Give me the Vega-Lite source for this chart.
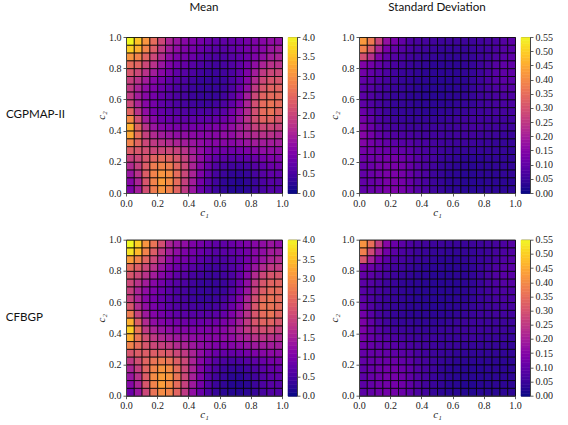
{"$schema":"https://vega.github.io/schema/vega-lite/v6.json","padding":{"left":5,"top":1,"right":0,"bottom":0},"background":"white","bounds":"flush","columns":6,"align":"each","spacing":{"row":46.7,"column":6},"resolve":{"scale":{"color":"independent","stroke":"independent"}},
"config":{"view":{"stroke":null},"font":"Liberation Serif","axis":{"grid":false,"labelFlush":false,"labelOverlap":false,"labelFont":"Liberation Serif","labelFontSize":10,"labelColor":"#222","tickColor":"#333","tickSize":3,"tickWidth":0.8,"domainColor":"#444","labelPadding":2,"titleFont":"Liberation Serif","titleFontSize":11,"titleFontWeight":"normal","titleColor":"#222"},"title":{"font":"Lato","fontSize":11.6,"fontWeight":"normal","color":"#111"}},
"datasets":{"g":[
{"x":0,"y":0.95,"a":4,"b":0.42,"c":4,"d":0.41},{"x":0.05,"y":0.95,"a":3.5,"b":0.37,"c":3.6,"d":0.35},{"x":0.1,"y":0.95,"a":3,"b":0.27,"c":3,"d":0.25},{"x":0.15,"y":0.95,"a":2.5,"b":0.17,"c":2.6,"d":0.15},{"x":0.2,"y":0.95,"a":2,"b":0.13,"c":2.1,"d":0.11},{"x":0.25,"y":0.95,"a":1.5,"b":0.1,"c":1.5,"d":0.09},{"x":0.3,"y":0.95,"a":1.3,"b":0.07,"c":1.3,"d":0.07},{"x":0.35,"y":0.95,"a":1.1,"b":0.065,"c":1.2,"d":0.06},{"x":0.4,"y":0.95,"a":1,"b":0.06,"c":1,"d":0.055},{"x":0.45,"y":0.95,"a":0.9,"b":0.055,"c":0.9,"d":0.05},{"x":0.5,"y":0.95,"a":0.8,"b":0.05,"c":0.8,"d":0.05},{"x":0.55,"y":0.95,"a":0.7,"b":0.05,"c":0.7,"d":0.045},{"x":0.6,"y":0.95,"a":0.7,"b":0.05,"c":0.7,"d":0.045},{"x":0.65,"y":0.95,"a":0.75,"b":0.05,"c":0.8,"d":0.045},{"x":0.7,"y":0.95,"a":0.8,"b":0.05,"c":0.9,"d":0.05},{"x":0.75,"y":0.95,"a":0.9,"b":0.055,"c":1,"d":0.05},{"x":0.8,"y":0.95,"a":1,"b":0.06,"c":1.1,"d":0.055},{"x":0.85,"y":0.95,"a":1.1,"b":0.065,"c":1.2,"d":0.06},{"x":0.9,"y":0.95,"a":1.2,"b":0.08,"c":1.3,"d":0.07},{"x":0.95,"y":0.95,"a":1.2,"b":0.09,"c":1.2,"d":0.08},
{"x":0,"y":0.9,"a":3.6,"b":0.38,"c":3.8,"d":0.38},{"x":0.05,"y":0.9,"a":3.3,"b":0.31,"c":3.4,"d":0.28},{"x":0.1,"y":0.9,"a":2.8,"b":0.21,"c":2.8,"d":0.19},{"x":0.15,"y":0.9,"a":2.3,"b":0.13,"c":2.3,"d":0.12},{"x":0.2,"y":0.9,"a":1.8,"b":0.1,"c":1.8,"d":0.09},{"x":0.25,"y":0.9,"a":1.4,"b":0.08,"c":1.4,"d":0.07},{"x":0.3,"y":0.9,"a":1.2,"b":0.065,"c":1.2,"d":0.06},{"x":0.35,"y":0.9,"a":1,"b":0.055,"c":1,"d":0.05},{"x":0.4,"y":0.9,"a":0.9,"b":0.05,"c":0.9,"d":0.045},{"x":0.45,"y":0.9,"a":0.8,"b":0.045,"c":0.8,"d":0.04},{"x":0.5,"y":0.9,"a":0.7,"b":0.04,"c":0.7,"d":0.04},{"x":0.55,"y":0.9,"a":0.6,"b":0.04,"c":0.6,"d":0.035},{"x":0.6,"y":0.9,"a":0.6,"b":0.04,"c":0.65,"d":0.035},{"x":0.65,"y":0.9,"a":0.7,"b":0.04,"c":0.7,"d":0.04},{"x":0.7,"y":0.9,"a":0.8,"b":0.045,"c":0.8,"d":0.04},{"x":0.75,"y":0.9,"a":0.9,"b":0.05,"c":0.9,"d":0.045},{"x":0.8,"y":0.9,"a":1,"b":0.055,"c":1.1,"d":0.05},{"x":0.85,"y":0.9,"a":1.1,"b":0.065,"c":1.2,"d":0.06},{"x":0.9,"y":0.9,"a":1.3,"b":0.08,"c":1.4,"d":0.07},{"x":0.95,"y":0.9,"a":1.4,"b":0.085,"c":1.4,"d":0.075},
{"x":0,"y":0.85,"a":3,"b":0.29,"c":3.1,"d":0.3},{"x":0.05,"y":0.85,"a":2.8,"b":0.23,"c":2.8,"d":0.2},{"x":0.1,"y":0.85,"a":2.4,"b":0.14,"c":2.4,"d":0.13},{"x":0.15,"y":0.85,"a":2,"b":0.1,"c":2,"d":0.09},{"x":0.2,"y":0.85,"a":1.6,"b":0.08,"c":1.6,"d":0.07},{"x":0.25,"y":0.85,"a":1.2,"b":0.065,"c":1.2,"d":0.06},{"x":0.3,"y":0.85,"a":1,"b":0.055,"c":1,"d":0.05},{"x":0.35,"y":0.85,"a":0.9,"b":0.05,"c":0.9,"d":0.045},{"x":0.4,"y":0.85,"a":0.8,"b":0.04,"c":0.8,"d":0.04},{"x":0.45,"y":0.85,"a":0.65,"b":0.04,"c":0.65,"d":0.035},{"x":0.5,"y":0.85,"a":0.55,"b":0.035,"c":0.55,"d":0.03},{"x":0.55,"y":0.85,"a":0.5,"b":0.035,"c":0.5,"d":0.03},{"x":0.6,"y":0.85,"a":0.5,"b":0.035,"c":0.5,"d":0.03},{"x":0.65,"y":0.85,"a":0.6,"b":0.04,"c":0.6,"d":0.035},{"x":0.7,"y":0.85,"a":0.7,"b":0.04,"c":0.7,"d":0.04},{"x":0.75,"y":0.85,"a":0.85,"b":0.05,"c":0.9,"d":0.045},{"x":0.8,"y":0.85,"a":1,"b":0.055,"c":1.1,"d":0.05},{"x":0.85,"y":0.85,"a":1.2,"b":0.07,"c":1.3,"d":0.06},{"x":0.9,"y":0.85,"a":1.4,"b":0.085,"c":1.5,"d":0.075},{"x":0.95,"y":0.85,"a":1.5,"b":0.09,"c":1.6,"d":0.08},
{"x":0,"y":0.8,"a":2.5,"b":0.14,"c":2.5,"d":0.12},{"x":0.05,"y":0.8,"a":2.4,"b":0.12,"c":2.3,"d":0.11},{"x":0.1,"y":0.8,"a":2,"b":0.1,"c":2,"d":0.09},{"x":0.15,"y":0.8,"a":1.7,"b":0.08,"c":1.7,"d":0.07},{"x":0.2,"y":0.8,"a":1.3,"b":0.065,"c":1.3,"d":0.055},{"x":0.25,"y":0.8,"a":1,"b":0.055,"c":1,"d":0.05},{"x":0.3,"y":0.8,"a":0.85,"b":0.045,"c":0.85,"d":0.04},{"x":0.35,"y":0.8,"a":0.75,"b":0.04,"c":0.75,"d":0.035},{"x":0.4,"y":0.8,"a":0.6,"b":0.035,"c":0.6,"d":0.03},{"x":0.45,"y":0.8,"a":0.5,"b":0.03,"c":0.5,"d":0.03},{"x":0.5,"y":0.8,"a":0.45,"b":0.03,"c":0.4,"d":0.03},{"x":0.55,"y":0.8,"a":0.4,"b":0.03,"c":0.4,"d":0.025},{"x":0.6,"y":0.8,"a":0.45,"b":0.03,"c":0.45,"d":0.03},{"x":0.65,"y":0.8,"a":0.55,"b":0.035,"c":0.55,"d":0.03},{"x":0.7,"y":0.8,"a":0.7,"b":0.04,"c":0.7,"d":0.035},{"x":0.75,"y":0.8,"a":0.9,"b":0.05,"c":1,"d":0.045},{"x":0.8,"y":0.8,"a":1.2,"b":0.06,"c":1.3,"d":0.055},{"x":0.85,"y":0.8,"a":1.5,"b":0.08,"c":1.6,"d":0.07},{"x":0.9,"y":0.8,"a":1.7,"b":0.095,"c":1.8,"d":0.08},{"x":0.95,"y":0.8,"a":1.7,"b":0.095,"c":1.8,"d":0.085},
{"x":0,"y":0.75,"a":2.2,"b":0.12,"c":2.2,"d":0.1},{"x":0.05,"y":0.75,"a":2,"b":0.1,"c":2,"d":0.09},{"x":0.1,"y":0.75,"a":1.7,"b":0.085,"c":1.7,"d":0.075},{"x":0.15,"y":0.75,"a":1.4,"b":0.07,"c":1.4,"d":0.06},{"x":0.2,"y":0.75,"a":1.1,"b":0.055,"c":1.1,"d":0.05},{"x":0.25,"y":0.75,"a":0.9,"b":0.045,"c":0.9,"d":0.04},{"x":0.3,"y":0.75,"a":0.7,"b":0.04,"c":0.7,"d":0.035},{"x":0.35,"y":0.75,"a":0.6,"b":0.035,"c":0.6,"d":0.03},{"x":0.4,"y":0.75,"a":0.5,"b":0.03,"c":0.45,"d":0.03},{"x":0.45,"y":0.75,"a":0.4,"b":0.03,"c":0.4,"d":0.025},{"x":0.5,"y":0.75,"a":0.35,"b":0.03,"c":0.35,"d":0.025},{"x":0.55,"y":0.75,"a":0.35,"b":0.03,"c":0.35,"d":0.025},{"x":0.6,"y":0.75,"a":0.4,"b":0.03,"c":0.4,"d":0.03},{"x":0.65,"y":0.75,"a":0.5,"b":0.035,"c":0.5,"d":0.03},{"x":0.7,"y":0.75,"a":0.7,"b":0.04,"c":0.75,"d":0.035},{"x":0.75,"y":0.75,"a":1,"b":0.05,"c":1.1,"d":0.045},{"x":0.8,"y":0.75,"a":1.4,"b":0.065,"c":1.6,"d":0.06},{"x":0.85,"y":0.75,"a":1.8,"b":0.085,"c":2,"d":0.075},{"x":0.9,"y":0.75,"a":2,"b":0.095,"c":2.2,"d":0.085},{"x":0.95,"y":0.75,"a":2,"b":0.095,"c":2.2,"d":0.085},
{"x":0,"y":0.7,"a":1.9,"b":0.1,"c":2,"d":0.09},{"x":0.05,"y":0.7,"a":1.7,"b":0.09,"c":1.7,"d":0.08},{"x":0.1,"y":0.7,"a":1.4,"b":0.075,"c":1.4,"d":0.065},{"x":0.15,"y":0.7,"a":1.1,"b":0.06,"c":1.1,"d":0.05},{"x":0.2,"y":0.7,"a":0.9,"b":0.05,"c":0.9,"d":0.045},{"x":0.25,"y":0.7,"a":0.7,"b":0.04,"c":0.7,"d":0.035},{"x":0.3,"y":0.7,"a":0.6,"b":0.035,"c":0.6,"d":0.03},{"x":0.35,"y":0.7,"a":0.5,"b":0.03,"c":0.5,"d":0.03},{"x":0.4,"y":0.7,"a":0.4,"b":0.03,"c":0.4,"d":0.025},{"x":0.45,"y":0.7,"a":0.3,"b":0.025,"c":0.3,"d":0.025},{"x":0.5,"y":0.7,"a":0.3,"b":0.025,"c":0.3,"d":0.025},{"x":0.55,"y":0.7,"a":0.3,"b":0.025,"c":0.3,"d":0.025},{"x":0.6,"y":0.7,"a":0.35,"b":0.03,"c":0.35,"d":0.025},{"x":0.65,"y":0.7,"a":0.5,"b":0.03,"c":0.5,"d":0.03},{"x":0.7,"y":0.7,"a":0.7,"b":0.04,"c":0.8,"d":0.035},{"x":0.75,"y":0.7,"a":1.1,"b":0.05,"c":1.2,"d":0.045},{"x":0.8,"y":0.7,"a":1.6,"b":0.065,"c":1.8,"d":0.06},{"x":0.85,"y":0.7,"a":2,"b":0.08,"c":2.2,"d":0.07},{"x":0.9,"y":0.7,"a":2.2,"b":0.09,"c":2.4,"d":0.08},{"x":0.95,"y":0.7,"a":2.2,"b":0.09,"c":2.4,"d":0.08},
{"x":0,"y":0.65,"a":1.8,"b":0.09,"c":1.9,"d":0.085},{"x":0.05,"y":0.65,"a":1.5,"b":0.08,"c":1.5,"d":0.07},{"x":0.1,"y":0.65,"a":1.2,"b":0.065,"c":1.2,"d":0.06},{"x":0.15,"y":0.65,"a":1,"b":0.055,"c":1,"d":0.05},{"x":0.2,"y":0.65,"a":0.8,"b":0.045,"c":0.8,"d":0.04},{"x":0.25,"y":0.65,"a":0.65,"b":0.04,"c":0.65,"d":0.035},{"x":0.3,"y":0.65,"a":0.5,"b":0.035,"c":0.5,"d":0.03},{"x":0.35,"y":0.65,"a":0.45,"b":0.03,"c":0.45,"d":0.025},{"x":0.4,"y":0.65,"a":0.35,"b":0.025,"c":0.35,"d":0.025},{"x":0.45,"y":0.65,"a":0.3,"b":0.025,"c":0.3,"d":0.025},{"x":0.5,"y":0.65,"a":0.3,"b":0.025,"c":0.3,"d":0.025},{"x":0.55,"y":0.65,"a":0.3,"b":0.025,"c":0.3,"d":0.025},{"x":0.6,"y":0.65,"a":0.35,"b":0.03,"c":0.35,"d":0.025},{"x":0.65,"y":0.65,"a":0.5,"b":0.03,"c":0.55,"d":0.03},{"x":0.7,"y":0.65,"a":0.8,"b":0.04,"c":0.85,"d":0.035},{"x":0.75,"y":0.65,"a":1.2,"b":0.05,"c":1.3,"d":0.045},{"x":0.8,"y":0.65,"a":1.8,"b":0.06,"c":1.9,"d":0.055},{"x":0.85,"y":0.65,"a":2.2,"b":0.07,"c":2.3,"d":0.065},{"x":0.9,"y":0.65,"a":2.4,"b":0.08,"c":2.5,"d":0.07},{"x":0.95,"y":0.65,"a":2.4,"b":0.08,"c":2.5,"d":0.07},
{"x":0,"y":0.6,"a":1.8,"b":0.09,"c":1.9,"d":0.09},{"x":0.05,"y":0.6,"a":1.4,"b":0.075,"c":1.5,"d":0.07},{"x":0.1,"y":0.6,"a":1.1,"b":0.06,"c":1.1,"d":0.055},{"x":0.15,"y":0.6,"a":0.9,"b":0.05,"c":0.9,"d":0.045},{"x":0.2,"y":0.6,"a":0.75,"b":0.04,"c":0.75,"d":0.04},{"x":0.25,"y":0.6,"a":0.6,"b":0.04,"c":0.6,"d":0.035},{"x":0.3,"y":0.6,"a":0.5,"b":0.03,"c":0.5,"d":0.03},{"x":0.35,"y":0.6,"a":0.45,"b":0.03,"c":0.45,"d":0.025},{"x":0.4,"y":0.6,"a":0.35,"b":0.025,"c":0.35,"d":0.025},{"x":0.45,"y":0.6,"a":0.3,"b":0.025,"c":0.3,"d":0.025},{"x":0.5,"y":0.6,"a":0.3,"b":0.025,"c":0.3,"d":0.025},{"x":0.55,"y":0.6,"a":0.3,"b":0.03,"c":0.35,"d":0.025},{"x":0.6,"y":0.6,"a":0.4,"b":0.03,"c":0.45,"d":0.03},{"x":0.65,"y":0.6,"a":0.6,"b":0.035,"c":0.65,"d":0.03},{"x":0.7,"y":0.6,"a":0.9,"b":0.04,"c":1,"d":0.035},{"x":0.75,"y":0.6,"a":1.4,"b":0.05,"c":1.5,"d":0.045},{"x":0.8,"y":0.6,"a":2,"b":0.055,"c":2.1,"d":0.05},{"x":0.85,"y":0.6,"a":2.4,"b":0.065,"c":2.5,"d":0.06},{"x":0.9,"y":0.6,"a":2.5,"b":0.07,"c":2.6,"d":0.065},{"x":0.95,"y":0.6,"a":2.5,"b":0.07,"c":2.5,"d":0.065},
{"x":0,"y":0.55,"a":2,"b":0.095,"c":2.2,"d":0.1},{"x":0.05,"y":0.55,"a":1.5,"b":0.075,"c":1.6,"d":0.075},{"x":0.1,"y":0.55,"a":1.1,"b":0.06,"c":1.2,"d":0.055},{"x":0.15,"y":0.55,"a":0.9,"b":0.05,"c":0.95,"d":0.045},{"x":0.2,"y":0.55,"a":0.7,"b":0.04,"c":0.8,"d":0.04},{"x":0.25,"y":0.55,"a":0.6,"b":0.04,"c":0.65,"d":0.035},{"x":0.3,"y":0.55,"a":0.5,"b":0.035,"c":0.55,"d":0.03},{"x":0.35,"y":0.55,"a":0.45,"b":0.03,"c":0.5,"d":0.03},{"x":0.4,"y":0.55,"a":0.4,"b":0.03,"c":0.45,"d":0.025},{"x":0.45,"y":0.55,"a":0.35,"b":0.03,"c":0.4,"d":0.025},{"x":0.5,"y":0.55,"a":0.35,"b":0.03,"c":0.4,"d":0.025},{"x":0.55,"y":0.55,"a":0.4,"b":0.03,"c":0.45,"d":0.03},{"x":0.6,"y":0.55,"a":0.5,"b":0.035,"c":0.55,"d":0.03},{"x":0.65,"y":0.55,"a":0.7,"b":0.04,"c":0.8,"d":0.035},{"x":0.7,"y":0.55,"a":1,"b":0.04,"c":1.1,"d":0.04},{"x":0.75,"y":0.55,"a":1.5,"b":0.05,"c":1.6,"d":0.045},{"x":0.8,"y":0.55,"a":2.1,"b":0.055,"c":2.2,"d":0.05},{"x":0.85,"y":0.55,"a":2.5,"b":0.06,"c":2.6,"d":0.055},{"x":0.9,"y":0.55,"a":2.6,"b":0.065,"c":2.6,"d":0.06},{"x":0.95,"y":0.55,"a":2.5,"b":0.065,"c":2.5,"d":0.06},
{"x":0,"y":0.5,"a":2.4,"b":0.11,"c":2.7,"d":0.12},{"x":0.05,"y":0.5,"a":1.7,"b":0.085,"c":1.9,"d":0.085},{"x":0.1,"y":0.5,"a":1.2,"b":0.065,"c":1.35,"d":0.06},{"x":0.15,"y":0.5,"a":0.9,"b":0.05,"c":1.05,"d":0.05},{"x":0.2,"y":0.5,"a":0.75,"b":0.04,"c":0.9,"d":0.04},{"x":0.25,"y":0.5,"a":0.65,"b":0.04,"c":0.8,"d":0.035},{"x":0.3,"y":0.5,"a":0.6,"b":0.035,"c":0.7,"d":0.03},{"x":0.35,"y":0.5,"a":0.55,"b":0.035,"c":0.65,"d":0.03},{"x":0.4,"y":0.5,"a":0.5,"b":0.03,"c":0.6,"d":0.03},{"x":0.45,"y":0.5,"a":0.5,"b":0.03,"c":0.6,"d":0.03},{"x":0.5,"y":0.5,"a":0.5,"b":0.035,"c":0.6,"d":0.03},{"x":0.55,"y":0.5,"a":0.55,"b":0.035,"c":0.65,"d":0.03},{"x":0.6,"y":0.5,"a":0.65,"b":0.04,"c":0.75,"d":0.035},{"x":0.65,"y":0.5,"a":0.9,"b":0.045,"c":1,"d":0.04},{"x":0.7,"y":0.5,"a":1.2,"b":0.05,"c":1.3,"d":0.045},{"x":0.75,"y":0.5,"a":1.6,"b":0.05,"c":1.7,"d":0.05},{"x":0.8,"y":0.5,"a":2.1,"b":0.055,"c":2.2,"d":0.05},{"x":0.85,"y":0.5,"a":2.5,"b":0.06,"c":2.5,"d":0.055},{"x":0.9,"y":0.5,"a":2.6,"b":0.06,"c":2.6,"d":0.055},{"x":0.95,"y":0.5,"a":2.4,"b":0.06,"c":2.4,"d":0.055},
{"x":0,"y":0.45,"a":2.9,"b":0.125,"c":3.3,"d":0.135},{"x":0.05,"y":0.45,"a":2.1,"b":0.1,"c":2.3,"d":0.1},{"x":0.1,"y":0.45,"a":1.4,"b":0.07,"c":1.6,"d":0.07},{"x":0.15,"y":0.45,"a":1.1,"b":0.06,"c":1.2,"d":0.055},{"x":0.2,"y":0.45,"a":0.85,"b":0.05,"c":1.05,"d":0.045},{"x":0.25,"y":0.45,"a":0.8,"b":0.045,"c":0.95,"d":0.04},{"x":0.3,"y":0.45,"a":0.75,"b":0.04,"c":0.9,"d":0.04},{"x":0.35,"y":0.45,"a":0.7,"b":0.04,"c":0.85,"d":0.035},{"x":0.4,"y":0.45,"a":0.7,"b":0.04,"c":0.8,"d":0.035},{"x":0.45,"y":0.45,"a":0.7,"b":0.04,"c":0.8,"d":0.035},{"x":0.5,"y":0.45,"a":0.7,"b":0.04,"c":0.85,"d":0.035},{"x":0.55,"y":0.45,"a":0.75,"b":0.045,"c":0.85,"d":0.04},{"x":0.6,"y":0.45,"a":0.85,"b":0.05,"c":0.95,"d":0.045},{"x":0.65,"y":0.45,"a":1,"b":0.055,"c":1.1,"d":0.05},{"x":0.7,"y":0.45,"a":1.3,"b":0.055,"c":1.4,"d":0.05},{"x":0.75,"y":0.45,"a":1.7,"b":0.055,"c":1.8,"d":0.05},{"x":0.8,"y":0.45,"a":2.1,"b":0.055,"c":2.2,"d":0.05},{"x":0.85,"y":0.45,"a":2.4,"b":0.055,"c":2.4,"d":0.05},{"x":0.9,"y":0.45,"a":2.4,"b":0.055,"c":2.4,"d":0.05},{"x":0.95,"y":0.45,"a":2.2,"b":0.055,"c":2.2,"d":0.05},
{"x":0,"y":0.4,"a":3.3,"b":0.14,"c":3.6,"d":0.135},{"x":0.05,"y":0.4,"a":2.4,"b":0.11,"c":2.6,"d":0.105},{"x":0.1,"y":0.4,"a":1.7,"b":0.085,"c":1.8,"d":0.08},{"x":0.15,"y":0.4,"a":1.3,"b":0.07,"c":1.5,"d":0.065},{"x":0.2,"y":0.4,"a":1.1,"b":0.06,"c":1.3,"d":0.055},{"x":0.25,"y":0.4,"a":1,"b":0.055,"c":1.2,"d":0.05},{"x":0.3,"y":0.4,"a":0.95,"b":0.05,"c":1.1,"d":0.045},{"x":0.35,"y":0.4,"a":0.9,"b":0.05,"c":1.05,"d":0.045},{"x":0.4,"y":0.4,"a":0.9,"b":0.05,"c":1,"d":0.04},{"x":0.45,"y":0.4,"a":0.9,"b":0.05,"c":1,"d":0.04},{"x":0.5,"y":0.4,"a":0.95,"b":0.05,"c":1,"d":0.045},{"x":0.55,"y":0.4,"a":1,"b":0.05,"c":1.05,"d":0.045},{"x":0.6,"y":0.4,"a":1.05,"b":0.055,"c":1.1,"d":0.05},{"x":0.65,"y":0.4,"a":1.2,"b":0.06,"c":1.3,"d":0.05},{"x":0.7,"y":0.4,"a":1.4,"b":0.06,"c":1.5,"d":0.05},{"x":0.75,"y":0.4,"a":1.6,"b":0.06,"c":1.8,"d":0.05},{"x":0.8,"y":0.4,"a":1.9,"b":0.055,"c":2,"d":0.05},{"x":0.85,"y":0.4,"a":2,"b":0.055,"c":2.1,"d":0.05},{"x":0.9,"y":0.4,"a":2,"b":0.055,"c":2.1,"d":0.05},{"x":0.95,"y":0.4,"a":1.9,"b":0.05,"c":1.9,"d":0.045},
{"x":0,"y":0.35,"a":3.2,"b":0.15,"c":3.3,"d":0.125},{"x":0.05,"y":0.35,"a":2.5,"b":0.125,"c":2.6,"d":0.105},{"x":0.1,"y":0.35,"a":1.9,"b":0.1,"c":2.1,"d":0.09},{"x":0.15,"y":0.35,"a":1.6,"b":0.085,"c":1.8,"d":0.08},{"x":0.2,"y":0.35,"a":1.4,"b":0.075,"c":1.6,"d":0.07},{"x":0.25,"y":0.35,"a":1.3,"b":0.07,"c":1.45,"d":0.06},{"x":0.3,"y":0.35,"a":1.2,"b":0.065,"c":1.35,"d":0.055},{"x":0.35,"y":0.35,"a":1.2,"b":0.06,"c":1.3,"d":0.05},{"x":0.4,"y":0.35,"a":1.15,"b":0.055,"c":1.2,"d":0.05},{"x":0.45,"y":0.35,"a":1.1,"b":0.055,"c":1.15,"d":0.05},{"x":0.5,"y":0.35,"a":1.1,"b":0.055,"c":1.1,"d":0.045},{"x":0.55,"y":0.35,"a":1.1,"b":0.05,"c":1.1,"d":0.045},{"x":0.6,"y":0.35,"a":1.2,"b":0.055,"c":1.15,"d":0.045},{"x":0.65,"y":0.35,"a":1.2,"b":0.055,"c":1.2,"d":0.05},{"x":0.7,"y":0.35,"a":1.4,"b":0.055,"c":1.4,"d":0.05},{"x":0.75,"y":0.35,"a":1.5,"b":0.05,"c":1.5,"d":0.045},{"x":0.8,"y":0.35,"a":1.6,"b":0.05,"c":1.7,"d":0.045},{"x":0.85,"y":0.35,"a":1.7,"b":0.05,"c":1.75,"d":0.045},{"x":0.9,"y":0.35,"a":1.7,"b":0.045,"c":1.7,"d":0.045},{"x":0.95,"y":0.35,"a":1.6,"b":0.045,"c":1.6,"d":0.04},
{"x":0,"y":0.3,"a":2.8,"b":0.145,"c":2.8,"d":0.115},{"x":0.05,"y":0.3,"a":2.4,"b":0.125,"c":2.5,"d":0.105},{"x":0.1,"y":0.3,"a":2,"b":0.11,"c":2.2,"d":0.095},{"x":0.15,"y":0.3,"a":1.8,"b":0.1,"c":2,"d":0.09},{"x":0.2,"y":0.3,"a":1.7,"b":0.09,"c":1.9,"d":0.085},{"x":0.25,"y":0.3,"a":1.6,"b":0.085,"c":1.8,"d":0.075},{"x":0.3,"y":0.3,"a":1.5,"b":0.08,"c":1.6,"d":0.065},{"x":0.35,"y":0.3,"a":1.4,"b":0.07,"c":1.5,"d":0.06},{"x":0.4,"y":0.3,"a":1.3,"b":0.065,"c":1.35,"d":0.055},{"x":0.45,"y":0.3,"a":1.2,"b":0.06,"c":1.2,"d":0.05},{"x":0.5,"y":0.3,"a":1.1,"b":0.055,"c":1.1,"d":0.045},{"x":0.55,"y":0.3,"a":1.1,"b":0.05,"c":1,"d":0.045},{"x":0.6,"y":0.3,"a":1.1,"b":0.05,"c":1,"d":0.045},{"x":0.65,"y":0.3,"a":1.1,"b":0.05,"c":1.05,"d":0.04},{"x":0.7,"y":0.3,"a":1.2,"b":0.05,"c":1.15,"d":0.04},{"x":0.75,"y":0.3,"a":1.3,"b":0.045,"c":1.25,"d":0.04},{"x":0.8,"y":0.3,"a":1.4,"b":0.045,"c":1.35,"d":0.04},{"x":0.85,"y":0.3,"a":1.4,"b":0.04,"c":1.4,"d":0.04},{"x":0.9,"y":0.3,"a":1.4,"b":0.04,"c":1.4,"d":0.04},{"x":0.95,"y":0.3,"a":1.4,"b":0.04,"c":1.4,"d":0.035},
{"x":0,"y":0.25,"a":2.3,"b":0.125,"c":2.2,"d":0.105},{"x":0.05,"y":0.25,"a":2.2,"b":0.12,"c":2.3,"d":0.105},{"x":0.1,"y":0.25,"a":2.1,"b":0.115,"c":2.3,"d":0.105},{"x":0.15,"y":0.25,"a":2,"b":0.11,"c":2.3,"d":0.1},{"x":0.2,"y":0.25,"a":2,"b":0.105,"c":2.3,"d":0.095},{"x":0.25,"y":0.25,"a":2,"b":0.1,"c":2.2,"d":0.09},{"x":0.3,"y":0.25,"a":1.9,"b":0.09,"c":2,"d":0.08},{"x":0.35,"y":0.25,"a":1.7,"b":0.075,"c":1.8,"d":0.065},{"x":0.4,"y":0.25,"a":1.4,"b":0.065,"c":1.5,"d":0.055},{"x":0.45,"y":0.25,"a":1.2,"b":0.06,"c":1.2,"d":0.05},{"x":0.5,"y":0.25,"a":1,"b":0.05,"c":0.95,"d":0.045},{"x":0.55,"y":0.25,"a":0.9,"b":0.045,"c":0.8,"d":0.04},{"x":0.6,"y":0.25,"a":0.85,"b":0.04,"c":0.75,"d":0.035},{"x":0.65,"y":0.25,"a":0.85,"b":0.04,"c":0.75,"d":0.035},{"x":0.7,"y":0.25,"a":0.9,"b":0.04,"c":0.8,"d":0.035},{"x":0.75,"y":0.25,"a":1,"b":0.04,"c":0.9,"d":0.035},{"x":0.8,"y":0.25,"a":1.1,"b":0.04,"c":1,"d":0.035},{"x":0.85,"y":0.25,"a":1.2,"b":0.04,"c":1.1,"d":0.035},{"x":0.9,"y":0.25,"a":1.2,"b":0.04,"c":1.15,"d":0.035},{"x":0.95,"y":0.25,"a":1.2,"b":0.035,"c":1.15,"d":0.035},
{"x":0,"y":0.2,"a":1.9,"b":0.115,"c":1.8,"d":0.1},{"x":0.05,"y":0.2,"a":2,"b":0.115,"c":2.1,"d":0.105},{"x":0.1,"y":0.2,"a":2.2,"b":0.12,"c":2.4,"d":0.11},{"x":0.15,"y":0.2,"a":2.4,"b":0.125,"c":2.6,"d":0.11},{"x":0.2,"y":0.2,"a":2.5,"b":0.125,"c":2.7,"d":0.11},{"x":0.25,"y":0.2,"a":2.4,"b":0.115,"c":2.6,"d":0.1},{"x":0.3,"y":0.2,"a":2.2,"b":0.1,"c":2.3,"d":0.09},{"x":0.35,"y":0.2,"a":1.9,"b":0.085,"c":2,"d":0.07},{"x":0.4,"y":0.2,"a":1.5,"b":0.07,"c":1.5,"d":0.06},{"x":0.45,"y":0.2,"a":1.2,"b":0.06,"c":1.1,"d":0.05},{"x":0.5,"y":0.2,"a":0.9,"b":0.045,"c":0.85,"d":0.04},{"x":0.55,"y":0.2,"a":0.7,"b":0.04,"c":0.6,"d":0.035},{"x":0.6,"y":0.2,"a":0.65,"b":0.035,"c":0.5,"d":0.03},{"x":0.65,"y":0.2,"a":0.6,"b":0.03,"c":0.45,"d":0.03},{"x":0.7,"y":0.2,"a":0.65,"b":0.03,"c":0.5,"d":0.03},{"x":0.75,"y":0.2,"a":0.7,"b":0.03,"c":0.6,"d":0.03},{"x":0.8,"y":0.2,"a":0.8,"b":0.035,"c":0.7,"d":0.03},{"x":0.85,"y":0.2,"a":0.9,"b":0.035,"c":0.8,"d":0.03},{"x":0.9,"y":0.2,"a":1,"b":0.035,"c":0.9,"d":0.03},{"x":0.95,"y":0.2,"a":1,"b":0.035,"c":0.95,"d":0.03},
{"x":0,"y":0.15,"a":1.6,"b":0.105,"c":1.5,"d":0.095},{"x":0.05,"y":0.15,"a":1.9,"b":0.11,"c":1.9,"d":0.105},{"x":0.1,"y":0.15,"a":2.3,"b":0.125,"c":2.4,"d":0.115},{"x":0.15,"y":0.15,"a":2.7,"b":0.13,"c":2.8,"d":0.12},{"x":0.2,"y":0.15,"a":2.8,"b":0.13,"c":3,"d":0.12},{"x":0.25,"y":0.15,"a":2.7,"b":0.125,"c":2.9,"d":0.11},{"x":0.3,"y":0.15,"a":2.4,"b":0.105,"c":2.5,"d":0.095},{"x":0.35,"y":0.15,"a":2,"b":0.085,"c":2,"d":0.075},{"x":0.4,"y":0.15,"a":1.5,"b":0.07,"c":1.5,"d":0.06},{"x":0.45,"y":0.15,"a":1.1,"b":0.055,"c":1.05,"d":0.05},{"x":0.5,"y":0.15,"a":0.8,"b":0.04,"c":0.7,"d":0.035},{"x":0.55,"y":0.15,"a":0.55,"b":0.035,"c":0.5,"d":0.03},{"x":0.6,"y":0.15,"a":0.45,"b":0.03,"c":0.35,"d":0.025},{"x":0.65,"y":0.15,"a":0.4,"b":0.03,"c":0.3,"d":0.025},{"x":0.7,"y":0.15,"a":0.4,"b":0.025,"c":0.3,"d":0.025},{"x":0.75,"y":0.15,"a":0.45,"b":0.03,"c":0.4,"d":0.025},{"x":0.8,"y":0.15,"a":0.6,"b":0.03,"c":0.5,"d":0.03},{"x":0.85,"y":0.15,"a":0.7,"b":0.035,"c":0.65,"d":0.03},{"x":0.9,"y":0.15,"a":0.8,"b":0.035,"c":0.75,"d":0.03},{"x":0.95,"y":0.15,"a":0.85,"b":0.035,"c":0.8,"d":0.03},
{"x":0,"y":0.1,"a":1.3,"b":0.1,"c":1.3,"d":0.09},{"x":0.05,"y":0.1,"a":1.7,"b":0.11,"c":1.7,"d":0.105},{"x":0.1,"y":0.1,"a":2.3,"b":0.12,"c":2.3,"d":0.115},{"x":0.15,"y":0.1,"a":2.8,"b":0.13,"c":2.9,"d":0.125},{"x":0.2,"y":0.1,"a":3,"b":0.135,"c":3.1,"d":0.125},{"x":0.25,"y":0.1,"a":2.9,"b":0.125,"c":3,"d":0.115},{"x":0.3,"y":0.1,"a":2.5,"b":0.105,"c":2.6,"d":0.095},{"x":0.35,"y":0.1,"a":2,"b":0.085,"c":2,"d":0.075},{"x":0.4,"y":0.1,"a":1.5,"b":0.07,"c":1.45,"d":0.06},{"x":0.45,"y":0.1,"a":1,"b":0.05,"c":1,"d":0.045},{"x":0.5,"y":0.1,"a":0.7,"b":0.04,"c":0.6,"d":0.035},{"x":0.55,"y":0.1,"a":0.45,"b":0.03,"c":0.4,"d":0.03},{"x":0.6,"y":0.1,"a":0.35,"b":0.03,"c":0.3,"d":0.025},{"x":0.65,"y":0.1,"a":0.25,"b":0.025,"c":0.2,"d":0.025},{"x":0.7,"y":0.1,"a":0.25,"b":0.025,"c":0.2,"d":0.025},{"x":0.75,"y":0.1,"a":0.3,"b":0.03,"c":0.3,"d":0.025},{"x":0.8,"y":0.1,"a":0.45,"b":0.03,"c":0.4,"d":0.025},{"x":0.85,"y":0.1,"a":0.6,"b":0.03,"c":0.55,"d":0.03},{"x":0.9,"y":0.1,"a":0.7,"b":0.035,"c":0.65,"d":0.03},{"x":0.95,"y":0.1,"a":0.7,"b":0.035,"c":0.7,"d":0.03},
{"x":0,"y":0.05,"a":1.1,"b":0.1,"c":1.1,"d":0.09},{"x":0.05,"y":0.05,"a":1.5,"b":0.105,"c":1.5,"d":0.1},{"x":0.1,"y":0.05,"a":2.2,"b":0.115,"c":2.2,"d":0.115},{"x":0.15,"y":0.05,"a":2.8,"b":0.13,"c":2.8,"d":0.12},{"x":0.2,"y":0.05,"a":3.1,"b":0.135,"c":3.1,"d":0.125},{"x":0.25,"y":0.05,"a":2.9,"b":0.125,"c":2.9,"d":0.115},{"x":0.3,"y":0.05,"a":2.5,"b":0.105,"c":2.5,"d":0.095},{"x":0.35,"y":0.05,"a":1.9,"b":0.08,"c":1.9,"d":0.075},{"x":0.4,"y":0.05,"a":1.4,"b":0.065,"c":1.35,"d":0.055},{"x":0.45,"y":0.05,"a":0.9,"b":0.05,"c":0.9,"d":0.045},{"x":0.5,"y":0.05,"a":0.6,"b":0.04,"c":0.55,"d":0.035},{"x":0.55,"y":0.05,"a":0.4,"b":0.03,"c":0.35,"d":0.025},{"x":0.6,"y":0.05,"a":0.25,"b":0.03,"c":0.25,"d":0.025},{"x":0.65,"y":0.05,"a":0.2,"b":0.025,"c":0.15,"d":0.02},{"x":0.7,"y":0.05,"a":0.15,"b":0.025,"c":0.15,"d":0.02},{"x":0.75,"y":0.05,"a":0.25,"b":0.025,"c":0.2,"d":0.025},{"x":0.8,"y":0.05,"a":0.35,"b":0.03,"c":0.35,"d":0.025},{"x":0.85,"y":0.05,"a":0.5,"b":0.03,"c":0.5,"d":0.03},{"x":0.9,"y":0.05,"a":0.6,"b":0.03,"c":0.6,"d":0.03},{"x":0.95,"y":0.05,"a":0.6,"b":0.03,"c":0.6,"d":0.03},
{"x":0,"y":0,"a":1,"b":0.095,"c":0.8,"d":0.09},{"x":0.05,"y":0,"a":1.4,"b":0.105,"c":1.3,"d":0.1},{"x":0.1,"y":0,"a":2.1,"b":0.115,"c":2,"d":0.115},{"x":0.15,"y":0,"a":2.7,"b":0.13,"c":2.6,"d":0.12},{"x":0.2,"y":0,"a":3,"b":0.135,"c":2.9,"d":0.12},{"x":0.25,"y":0,"a":2.8,"b":0.125,"c":2.8,"d":0.11},{"x":0.3,"y":0,"a":2.4,"b":0.105,"c":2.4,"d":0.09},{"x":0.35,"y":0,"a":1.8,"b":0.08,"c":1.8,"d":0.07},{"x":0.4,"y":0,"a":1.3,"b":0.065,"c":1.2,"d":0.055},{"x":0.45,"y":0,"a":0.8,"b":0.05,"c":0.8,"d":0.04},{"x":0.5,"y":0,"a":0.55,"b":0.04,"c":0.5,"d":0.03},{"x":0.55,"y":0,"a":0.35,"b":0.03,"c":0.3,"d":0.025},{"x":0.6,"y":0,"a":0.25,"b":0.03,"c":0.2,"d":0.025},{"x":0.65,"y":0,"a":0.15,"b":0.025,"c":0.15,"d":0.02},{"x":0.7,"y":0,"a":0.15,"b":0.025,"c":0.15,"d":0.02},{"x":0.75,"y":0,"a":0.2,"b":0.025,"c":0.2,"d":0.025},{"x":0.8,"y":0,"a":0.35,"b":0.03,"c":0.3,"d":0.025},{"x":0.85,"y":0,"a":0.45,"b":0.03,"c":0.45,"d":0.025},{"x":0.9,"y":0,"a":0.55,"b":0.03,"c":0.55,"d":0.03},{"x":0.95,"y":0,"a":0.55,"b":0.03,"c":0.55,"d":0.03}],
"m":[{"v":0},{"v":0.1},{"v":0.2},{"v":0.3},{"v":0.4},{"v":0.5},{"v":0.6},{"v":0.7},{"v":0.8},{"v":0.9},{"v":1},{"v":1.1},{"v":1.2},{"v":1.3},{"v":1.4},{"v":1.5},{"v":1.6},{"v":1.7},{"v":1.8},{"v":1.9},{"v":2},{"v":2.1},{"v":2.2},{"v":2.3},{"v":2.4},{"v":2.5},{"v":2.6},{"v":2.7},{"v":2.8},{"v":2.9},{"v":3},{"v":3.1},{"v":3.2},{"v":3.3},{"v":3.4},{"v":3.5},{"v":3.6},{"v":3.7},{"v":3.8},{"v":3.9}],
"s":[{"v":0},{"v":0.01},{"v":0.02},{"v":0.03},{"v":0.04},{"v":0.05},{"v":0.06},{"v":0.07},{"v":0.08},{"v":0.09},{"v":0.1},{"v":0.11},{"v":0.12},{"v":0.13},{"v":0.14},{"v":0.15},{"v":0.16},{"v":0.17},{"v":0.18},{"v":0.19},{"v":0.2},{"v":0.21},{"v":0.22},{"v":0.23},{"v":0.24},{"v":0.25},{"v":0.26},{"v":0.27},{"v":0.28},{"v":0.29},{"v":0.3},{"v":0.31},{"v":0.32},{"v":0.33},{"v":0.34},{"v":0.35},{"v":0.36},{"v":0.37},{"v":0.38},{"v":0.39},{"v":0.4},{"v":0.41},{"v":0.42},{"v":0.43},{"v":0.44},{"v":0.45},{"v":0.46},{"v":0.47},{"v":0.48},{"v":0.49},{"v":0.5},{"v":0.51},{"v":0.52},{"v":0.53},{"v":0.54}]},
"concat":[
{"title":{"text":"CGPMAP-II","orient":"left","angle":0,"anchor":"middle","align":"left","baseline":"middle","offset":0},"width":54.3,"height":156,"data":{"values":[]},"mark":{"type":"rect"},"encoding":{}},
{"title":{"text":"Mean","offset":18},"view":{"stroke":"#555"},"width":156,"height":156,"data":{"name":"g"},"mark":{"type":"rect","stroke":"#000","strokeWidth":0.9,"strokeOpacity":0.85},"encoding":{"x":{"field":"x","type":"quantitative","bin":{"binned":true,"step":0.05},"scale":{"domain":[0,1],"nice":false},"axis":{"values":[0,0.2,0.4,0.6,0.8,1],"format":".1f","title":"c₁","titleFontStyle":"italic","titlePadding":-2}},"y":{"field":"y","type":"quantitative","bin":{"binned":true,"step":0.05},"scale":{"domain":[0,1],"nice":false},"axis":{"values":[0,0.2,0.4,0.6,0.8,1],"format":".1f","title":"c₂","titleFontStyle":"italic","titlePadding":2}},"color":{"field":"a","type":"quantitative","legend":null,"scale":{"scheme":"plasma","domain":[0,4],"clamp":true}}}},
{"view":{"stroke":"#555"},"width":9,"height":156,"data":{"name":"m"},"mark":{"type":"rect","strokeWidth":0.6},"encoding":{"y":{"field":"v","type":"quantitative","bin":{"binned":true,"step":0.1},"scale":{"domain":[0,4],"nice":false},"axis":{"orient":"right","values":[0,0.5,1,1.5,2,2.5,3,3.5,4],"format":".1f","title":null}},"color":{"field":"v","type":"quantitative","legend":null,"scale":{"scheme":"plasma","domain":[0,4]}},"stroke":{"field":"v","type":"quantitative","legend":null,"scale":{"scheme":"plasma","domain":[0,4]}}}},
{"width":49.3,"height":156,"data":{"values":[]},"mark":{"type":"rect"},"encoding":{}},
{"title":{"text":"Standard Deviation","offset":18},"view":{"stroke":"#555"},"width":156,"height":156,"data":{"name":"g"},"mark":{"type":"rect","stroke":"#000","strokeWidth":0.9,"strokeOpacity":0.85},"encoding":{"x":{"field":"x","type":"quantitative","bin":{"binned":true,"step":0.05},"scale":{"domain":[0,1],"nice":false},"axis":{"values":[0,0.2,0.4,0.6,0.8,1],"format":".1f","title":"c₁","titleFontStyle":"italic","titlePadding":-2}},"y":{"field":"y","type":"quantitative","bin":{"binned":true,"step":0.05},"scale":{"domain":[0,1],"nice":false},"axis":{"values":[0,0.2,0.4,0.6,0.8,1],"format":".1f","title":"c₂","titleFontStyle":"italic","titlePadding":2}},"color":{"field":"b","type":"quantitative","legend":null,"scale":{"scheme":"plasma","domain":[0,0.55],"clamp":true}}}},
{"view":{"stroke":"#555"},"width":9,"height":156,"data":{"name":"s"},"mark":{"type":"rect","strokeWidth":0.6},"encoding":{"y":{"field":"v","type":"quantitative","bin":{"binned":true,"step":0.01},"scale":{"domain":[0,0.55],"nice":false},"axis":{"orient":"right","values":[0,0.05,0.1,0.15,0.2,0.25,0.3,0.35,0.4,0.45,0.5,0.55],"format":".2f","title":null}},"color":{"field":"v","type":"quantitative","legend":null,"scale":{"scheme":"plasma","domain":[0,0.55]}},"stroke":{"field":"v","type":"quantitative","legend":null,"scale":{"scheme":"plasma","domain":[0,0.55]}}}},
{"title":{"text":"CFBGP","orient":"left","angle":0,"anchor":"middle","align":"left","baseline":"middle","offset":22},"width":54.3,"height":156,"data":{"values":[]},"mark":{"type":"rect"},"encoding":{}},
{"view":{"stroke":"#555"},"width":156,"height":156,"data":{"name":"g"},"mark":{"type":"rect","stroke":"#000","strokeWidth":0.9,"strokeOpacity":0.85},"encoding":{"x":{"field":"x","type":"quantitative","bin":{"binned":true,"step":0.05},"scale":{"domain":[0,1],"nice":false},"axis":{"values":[0,0.2,0.4,0.6,0.8,1],"format":".1f","title":"c₁","titleFontStyle":"italic","titlePadding":-2}},"y":{"field":"y","type":"quantitative","bin":{"binned":true,"step":0.05},"scale":{"domain":[0,1],"nice":false},"axis":{"values":[0,0.2,0.4,0.6,0.8,1],"format":".1f","title":"c₂","titleFontStyle":"italic","titlePadding":2}},"color":{"field":"c","type":"quantitative","legend":null,"scale":{"scheme":"plasma","domain":[0,4],"clamp":true}}}},
{"view":{"stroke":"#555"},"width":9,"height":156,"data":{"name":"m"},"mark":{"type":"rect","strokeWidth":0.6},"encoding":{"y":{"field":"v","type":"quantitative","bin":{"binned":true,"step":0.1},"scale":{"domain":[0,4],"nice":false},"axis":{"orient":"right","values":[0,0.5,1,1.5,2,2.5,3,3.5,4],"format":".1f","title":null}},"color":{"field":"v","type":"quantitative","legend":null,"scale":{"scheme":"plasma","domain":[0,4]}},"stroke":{"field":"v","type":"quantitative","legend":null,"scale":{"scheme":"plasma","domain":[0,4]}}}},
{"width":49.3,"height":156,"data":{"values":[]},"mark":{"type":"rect"},"encoding":{}},
{"view":{"stroke":"#555"},"width":156,"height":156,"data":{"name":"g"},"mark":{"type":"rect","stroke":"#000","strokeWidth":0.9,"strokeOpacity":0.85},"encoding":{"x":{"field":"x","type":"quantitative","bin":{"binned":true,"step":0.05},"scale":{"domain":[0,1],"nice":false},"axis":{"values":[0,0.2,0.4,0.6,0.8,1],"format":".1f","title":"c₁","titleFontStyle":"italic","titlePadding":-2}},"y":{"field":"y","type":"quantitative","bin":{"binned":true,"step":0.05},"scale":{"domain":[0,1],"nice":false},"axis":{"values":[0,0.2,0.4,0.6,0.8,1],"format":".1f","title":"c₂","titleFontStyle":"italic","titlePadding":2}},"color":{"field":"d","type":"quantitative","legend":null,"scale":{"scheme":"plasma","domain":[0,0.55],"clamp":true}}}},
{"view":{"stroke":"#555"},"width":9,"height":156,"data":{"name":"s"},"mark":{"type":"rect","strokeWidth":0.6},"encoding":{"y":{"field":"v","type":"quantitative","bin":{"binned":true,"step":0.01},"scale":{"domain":[0,0.55],"nice":false},"axis":{"orient":"right","values":[0,0.05,0.1,0.15,0.2,0.25,0.3,0.35,0.4,0.45,0.5,0.55],"format":".2f","title":null}},"color":{"field":"v","type":"quantitative","legend":null,"scale":{"scheme":"plasma","domain":[0,0.55]}},"stroke":{"field":"v","type":"quantitative","legend":null,"scale":{"scheme":"plasma","domain":[0,0.55]}}}}
]}
